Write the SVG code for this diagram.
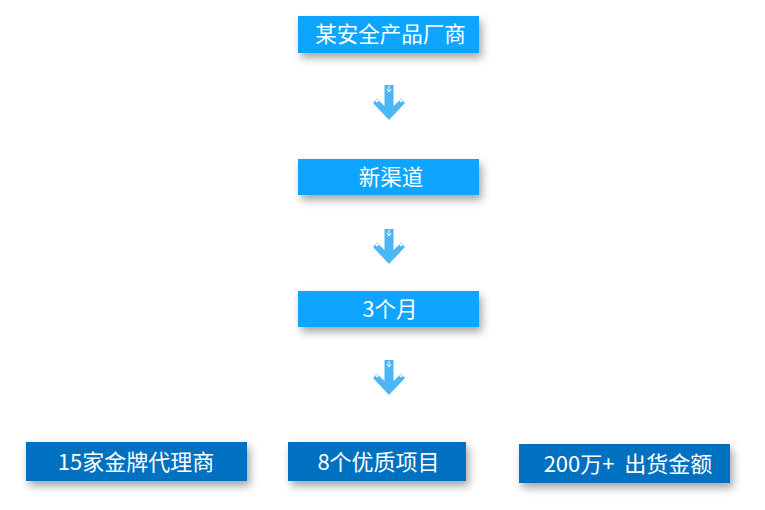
<svg xmlns="http://www.w3.org/2000/svg" width="765" height="510" viewBox="0 0 765 510">
<defs>
<filter id="sh" x="-20%" y="-50%" width="140%" height="220%">
<feDropShadow dx="3" dy="5" stdDeviation="4" flood-color="#000" flood-opacity="0.35"/>
</filter>
<g id="arrow">
<polygon points="-4.5,0 4.5,0 4.5,21 12,14 16,18 0,35 -16,18 -12,14 -4.5,21" fill="#4DB6F6"/>
<path d="M-2,4 L0,6.5 L2,4" fill="none" stroke="#fff" stroke-width="1.2"/>
<line x1="0" y1="1" x2="0" y2="4" stroke="#fff" stroke-width="1"/>
<circle cx="-12" cy="16" r="1.3" fill="#fff"/>
<circle cx="12" cy="16" r="1.3" fill="#fff"/>
</g>
</defs>
<style>
.top{fill:#0EA5FF;filter:url(#sh)}
.bot{fill:#0070C0;filter:url(#sh)}
text{font-family:"Noto Sans CJK SC","Noto Sans",sans-serif;font-size:21.5px;fill:#fff;text-anchor:middle}
.b{font-size:22px}
</style>
<rect width="765" height="510" fill="#fff"/>
<g id="connectors">
<use href="#arrow" x="389" y="85"/>
<use href="#arrow" x="389" y="229"/>
<use href="#arrow" x="389" y="360"/>
</g>
<g id="n1"><rect class="top" x="298" y="16" width="181" height="37"/><text x="390.5" y="42">某安全产品厂商</text></g>
<g id="n2"><rect class="top" x="298" y="159" width="181" height="36"/><text x="391" y="184.5">新渠道</text></g>
<g id="n3"><rect class="top" x="298" y="291" width="181" height="36"/><text x="390" y="317">3个月</text></g>
<g id="n4"><rect class="bot" x="26" y="442" width="221" height="39"/><text class="b" x="136" y="469.5">15家金牌代理商</text></g>
<g id="n5"><rect class="bot" x="288" y="442" width="178" height="39"/><text class="b" x="378.5" y="469.5">8个优质项目</text></g>
<g id="n6"><rect class="bot" x="519" y="444" width="211" height="39"/><text class="b" x="628" y="472" xml:space="preserve">200万+  出货金额</text></g>
</svg>
